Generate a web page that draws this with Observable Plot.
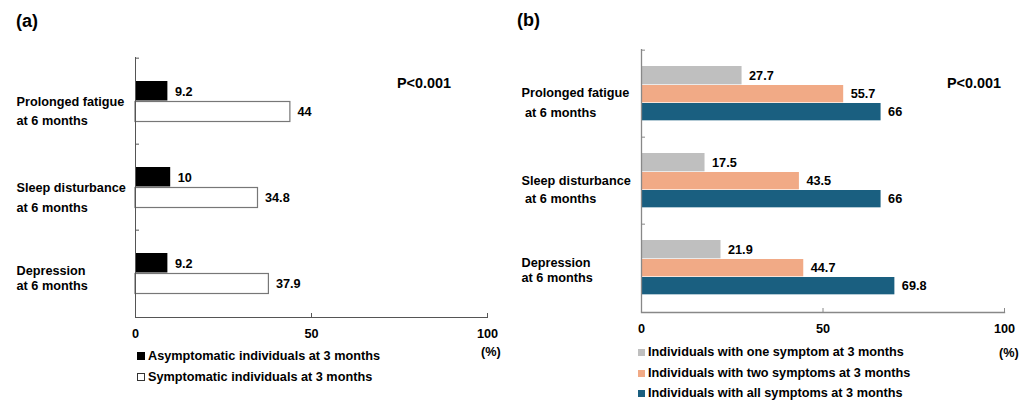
<!DOCTYPE html>
<html>
<head>
<meta charset="utf-8">
<script src="https://cdn.jsdelivr.net/npm/d3@7"></script>
<script src="https://cdn.jsdelivr.net/npm/@observablehq/plot@0.6"></script>
<style>
  html, body { margin: 0; padding: 0; background: #fff; }
  #wrap { position: relative; width: 1029px; height: 401px; overflow: hidden;
          font-family: "Liberation Sans", Arial, sans-serif; font-weight: bold; color: #000; }
  .abs { position: absolute; white-space: nowrap; height: 16px; line-height: 16px; font-size: 12.7px; }
  .panel { position: absolute; top: 0; }
  .sq { display: inline-block; width: 7px; height: 7px; margin-right: 3px; vertical-align: 0px; box-sizing: border-box; }
</style>
</head>
<body>
<div id="wrap"></div>
<script>
// ---------- data ----------
const categories = ["Prolonged fatigue\nat 6 months", "Sleep disturbance\nat 6 months", "Depression\nat 6 months"];
const categoriesB = ["Prolonged fatigue\n at 6 months", "Sleep disturbance\n at 6 months", "Depression\nat 6 months"];

const seriesA = ["Asymptomatic individuals at 3 months", "Symptomatic individuals at 3 months"];
const asymptomatic = [9.2, 10, 9.2];
const symptomatic = [44, 34.8, 37.9];

const seriesB = ["Individuals with one symptom at 3 months", "Individuals with two symptoms at 3 months", "Individuals with all symptoms at 3 months"];
const oneSymptom = [27.7, 17.5, 21.9];
const twoSymptoms = [55.7, 43.5, 44.7];
const allSymptoms = [66, 66, 69.8];

const xTicks = [0, 50, 100];
const pValueA = "P<0.001";
const pValueB = "P<0.001";

// ---------- tables ----------
const tableA = [];
categories.forEach((c, i) => {
  tableA.push({category: c, series: seriesA[0], value: asymptomatic[i]});
  tableA.push({category: c, series: seriesA[1], value: symptomatic[i]});
});
const tableB = [];
categories.forEach((c, i) => {
  tableB.push({category: c, series: seriesB[0], value: oneSymptom[i]});
  tableB.push({category: c, series: seriesB[1], value: twoSymptoms[i]});
  tableB.push({category: c, series: seriesB[2], value: allSymptoms[i]});
});

const wrap = document.getElementById("wrap");
const FONT = "'Liberation Sans', Arial, sans-serif";

function catLabels(labels, dx, offsets) {
  const marks = [];
  categories.forEach((c, i) => {
    const lines = labels[i].split("\n");
    lines.forEach((ln, j) => {
      marks.push(Plot.text([c], {y: d => d, text: () => ln, frameAnchor: "left", textAnchor: "start",
        dx: dx, dy: offsets[i][j], fontSize: 12.7, fontWeight: "bold", fill: "#000"}));
    });
  });
  return marks;
}

// ---------- panel (a) ----------
const axisA = "#555";
const plotA = Plot.plot({
  width: 510, height: 401,
  marginLeft: 135, marginRight: 23, marginTop: 57, marginBottom: 84,
  style: {fontFamily: FONT, fontSize: "12.7px", fontWeight: "bold", color: "#000", background: "transparent", overflow: "visible"},
  x: {domain: [0, 100], ticks: xTicks, label: null},
  y: {domain: categories, padding: 0, axis: null, label: null},
  marks: [
    Plot.barX(tableA.filter(d => d.series === seriesA[0]), {x: "value", y: "category", fill: "#000", insetTop: 23, insetBottom: 43.5}),
    Plot.barX(tableA.filter(d => d.series === seriesA[1]), {x: "value", y: "category", fill: "#fff", stroke: "#777", strokeWidth: 1.2, insetTop: 43.5, insetBottom: 22.5}),
    Plot.text(tableA.filter(d => d.series === seriesA[0]), {x: "value", y: "category", text: d => String(d.value), dx: 7, dy: -10, textAnchor: "start", fontSize: 12.7, fontWeight: "bold"}),
    Plot.text(tableA.filter(d => d.series === seriesA[1]), {x: "value", y: "category", text: d => String(d.value), dx: 7, dy: 10.5, textAnchor: "start", fontSize: 12.7, fontWeight: "bold"}),
    Plot.ruleX([0], {stroke: axisA, strokeWidth: 1}),
    Plot.frame({anchor: "bottom", stroke: axisA, strokeWidth: 1}),
    Plot.tickX([50, 100], {x: d => d, insetTop: 256, stroke: axisA}),
    Plot.tickY(categories, {y: d => d, dy: -43.33, insetRight: 348, stroke: axisA}),
    Plot.axisX({ticks: xTicks, tickSize: 0, tickPadding: 11, fontSize: 12.7, fontWeight: "bold", label: null}),
    ...catLabels(categories, -119, [[0, 19], [0, 20], [-3, 12]])
  ]
});
plotA.classList.add("panel");
plotA.style.left = "0px";
wrap.appendChild(plotA);

// ---------- panel (b) ----------
const axisB = "#888";
const colorsB = ["#bfbfbf", "#f1aa86", "#1a5f80"];
const plotB = Plot.plot({
  width: 519, height: 401,
  marginLeft: 131, marginRight: 25, marginTop: 49, marginBottom: 89,
  style: {fontFamily: FONT, fontSize: "12.7px", fontWeight: "bold", color: "#000", background: "transparent", overflow: "visible"},
  x: {domain: [0, 100], ticks: xTicks, label: null},
  y: {domain: categories, padding: 0, axis: null, label: null},
  marks: [
    Plot.barX(tableB.filter(d => d.series === seriesB[0]), {x: "value", y: "category", fill: colorsB[0], insetTop: 16, insetBottom: 52.67}),
    Plot.barX(tableB.filter(d => d.series === seriesB[1]), {x: "value", y: "category", fill: colorsB[1], insetTop: 35, insetBottom: 34.67}),
    Plot.barX(tableB.filter(d => d.series === seriesB[2]), {x: "value", y: "category", fill: colorsB[2], insetTop: 53, insetBottom: 16.67}),
    Plot.text(tableB.filter(d => d.series === seriesB[0]), {x: "value", y: "category", text: d => String(d.value), dx: 7, dy: -18.5, textAnchor: "start", fontSize: 12.7, fontWeight: "bold"}),
    Plot.text(tableB.filter(d => d.series === seriesB[1]), {x: "value", y: "category", text: d => String(d.value), dx: 7, dy: 0, textAnchor: "start", fontSize: 12.7, fontWeight: "bold"}),
    Plot.text(tableB.filter(d => d.series === seriesB[2]), {x: "value", y: "category", text: d => String(d.value), dx: 7, dy: 18, textAnchor: "start", fontSize: 12.7, fontWeight: "bold"}),
    Plot.ruleX([0], {stroke: axisB, strokeWidth: 1.3}),
    Plot.frame({anchor: "bottom", stroke: axisB, strokeWidth: 1.3}),
    Plot.tickX([50, 100], {x: d => d, insetTop: 259, stroke: axisB}),
    Plot.tickY(categories, {y: d => d, dy: -43.83, insetRight: 359, stroke: axisB}),
    Plot.axisX({ticks: xTicks, tickSize: 0, tickPadding: 11, fontSize: 12.7, fontWeight: "bold", label: null}),
    ...catLabels(categoriesB, -120, [[-1, 19], [0, 18], [-5, 10]])
  ]
});
plotB.classList.add("panel");
plotB.style.left = "510px";
wrap.appendChild(plotB);

// ---------- html text: titles, p-values, units, legends ----------
function addText(txt, x, y, size) {
  const d = document.createElement("div");
  d.className = "abs";
  d.style.left = x + "px";
  d.style.top = (y - 8) + "px";
  if (size) d.style.fontSize = size + "px";
  d.textContent = txt;
  wrap.appendChild(d);
  return d;
}
addText("(a)", 16, 21, 18);
addText("(b)", 517, 20, 18);
addText(pValueA, 397, 83, 14.4);
addText(pValueB, 947, 83, 14.4);
addText("(%)", 481, 352, 12.7);
addText("(%)", 999, 353, 12.7);

function addLegend(items, x, ys, styles) {
  items.forEach((t, i) => {
    const d = document.createElement("div");
    d.className = "abs";
    d.style.left = x + "px";
    d.style.top = (ys[i] - 8) + "px";
    const s = document.createElement("span");
    s.className = "sq";
    Object.assign(s.style, styles[i]);
    d.appendChild(s);
    d.appendChild(document.createTextNode(t));
    wrap.appendChild(d);
  });
}
addLegend(seriesA, 137, [356, 377], [
  {background: "#000", width: "8px", height: "8px"},
  {background: "#fff", border: "1px solid #333", width: "8px", height: "8px"}
]);
addLegend(seriesB, 638, [352, 373, 393], [
  {background: colorsB[0]}, {background: colorsB[1]}, {background: colorsB[2]}
]);
</script>
</body>
</html>
